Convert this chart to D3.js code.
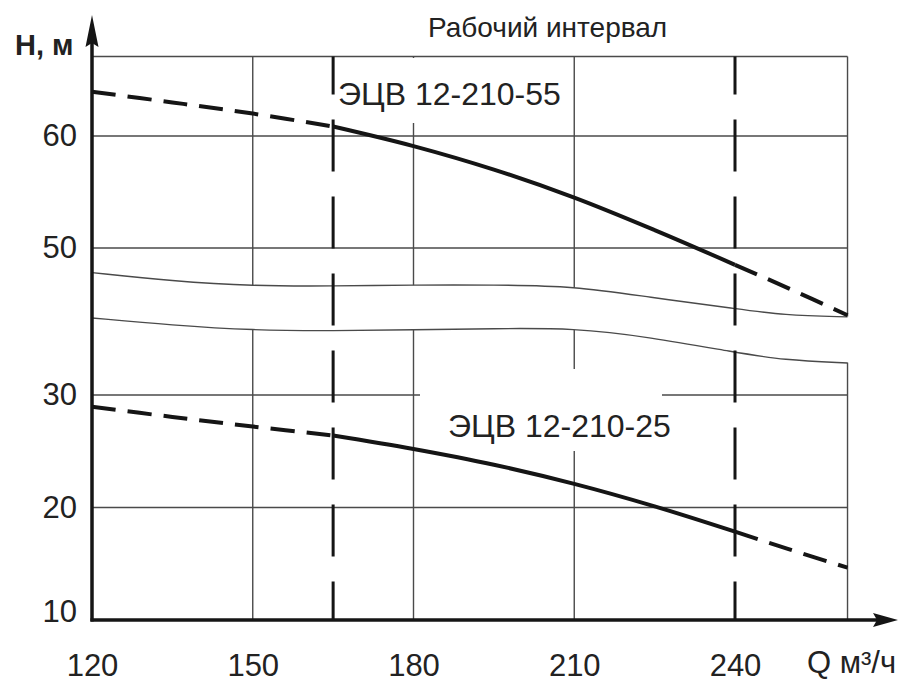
<!DOCTYPE html>
<html>
<head>
<meta charset="utf-8">
<script src="https://cdn.jsdelivr.net/npm/d3@7"></script>
<style>
  body { margin: 0; background: #fff; }
  svg { display: block; font-family: "Liberation Sans", Arial, sans-serif; }
</style>
</head>
<body>
<div id="chart"></div>
<script>
// ---- data ----
var flowQ   = [120, 135, 150, 165, 180, 195, 210, 225, 240, 250, 261];
var head55  = [63.95, 63.0, 62.0, 60.85, 59.1, 57.0, 54.5, 51.6, 48.5, 46.4, 44.0];
var head25  = [28.95, 28.05, 27.2, 26.4, 25.2, 23.8, 22.1, 20.1, 17.85, 16.3, 14.65];
var workRange = [165, 240];
var seriesNames = ["ЭЦВ 12-210-55", "ЭЦВ 12-210-25"];

var xTicks = [120, 150, 180, 210, 240];
var xGrid = [150, 180, 210, 261];
var yTicksLow = [10, 20, 30];
var yTicksHigh = [50, 60];
var yGridLow = [20, 30];
var yGridHigh = [50, 60, 67.1];

// axis break (two wavy lines)
var breakQ     = [120, 135, 150, 165, 180, 195, 210, 224, 240, 249, 261];
var breakUpper = [47.8, 47.05, 46.6, 46.6, 46.7, 46.7, 46.6, 45.6, 44.6, 44.0, 43.85];
var breakLower = [36.85, 36.2, 35.75, 35.7, 35.8, 35.9, 35.95, 35.15, 33.8, 33.1, 32.85];

var width = 904, height = 684;

var svg = d3.select("#chart")
    .append("svg")
    .attr("width", width)
    .attr("height", height);

// scales: lower part (10..30) and upper part (50..67) of the broken H axis
var x = d3.scaleLinear().domain([120, 240]).range([92, 735]);
var yLow = d3.scaleLinear().domain([10, 30]).range([620, 395]);
var yHigh = d3.scaleLinear().domain([50, 60]).range([248, 136]);

var gridColor = "#4a4a4a";
var ink = "#151515";

var defs = svg.append("defs");

var upperPts = breakQ.map(function (q, i) { return [q, breakUpper[i]]; });
var lowerPts = breakQ.map(function (q, i) { return [q, breakLower[i]]; });

// clip areas: above the upper wave / below the lower wave
var upperArea = d3.area()
    .x(function (d) { return x(d[0]); })
    .y0(0)
    .y1(function (d) { return yHigh(d[1]); })
    .curve(d3.curveBasis);
var lowerArea = d3.area()
    .x(function (d) { return x(d[0]); })
    .y0(height)
    .y1(function (d) { return yLow(d[1]); })
    .curve(d3.curveBasis);

function padEnds(pts) {
    var a = pts.slice();
    a.unshift([110, pts[0][1]]);
    a.push([270, pts[pts.length - 1][1]]);
    return a;
}

defs.append("clipPath").attr("id", "clipUpper")
    .append("path").attr("d", upperArea(padEnds(upperPts)));
defs.append("clipPath").attr("id", "clipLower")
    .append("path").attr("d", lowerArea(padEnds(lowerPts)));

// ---- grid ----
var gUp = svg.append("g").attr("clip-path", "url(#clipUpper)");
var gLo = svg.append("g").attr("clip-path", "url(#clipLower)");

gUp.selectAll("line.h").data(yGridHigh).enter().append("line")
    .attr("x1", x(120)).attr("x2", x(261))
    .attr("y1", function (d) { return yHigh(d); })
    .attr("y2", function (d) { return yHigh(d); })
    .attr("stroke", gridColor).attr("stroke-width", 1.4);
gUp.selectAll("line.v").data(xGrid).enter().append("line")
    .attr("x1", function (d) { return x(d); })
    .attr("x2", function (d) { return x(d); })
    .attr("y1", yHigh(67.1)).attr("y2", 400)
    .attr("stroke", gridColor).attr("stroke-width", 1.4);

gLo.selectAll("line.h").data(yGridLow).enter().append("line")
    .attr("x1", x(120)).attr("x2", x(261))
    .attr("y1", function (d) { return yLow(d); })
    .attr("y2", function (d) { return yLow(d); })
    .attr("stroke", gridColor).attr("stroke-width", 1.4);
gLo.selectAll("line.v").data(xGrid).enter().append("line")
    .attr("x1", function (d) { return x(d); })
    .attr("x2", function (d) { return x(d); })
    .attr("y1", 250).attr("y2", yLow(10))
    .attr("stroke", gridColor).attr("stroke-width", 1.4);

// wavy break lines
var upperLine = d3.line()
    .x(function (d) { return x(d[0]); })
    .y(function (d) { return yHigh(d[1]); })
    .curve(d3.curveBasis);
var lowerLine = d3.line()
    .x(function (d) { return x(d[0]); })
    .y(function (d) { return yLow(d[1]); })
    .curve(d3.curveBasis);

svg.append("path").attr("d", upperLine(upperPts))
    .attr("fill", "none").attr("stroke", gridColor).attr("stroke-width", 1.4);
svg.append("path").attr("d", lowerLine(lowerPts))
    .attr("fill", "none").attr("stroke", gridColor).attr("stroke-width", 1.4);

// white boxes behind the curve names
svg.append("rect").attr("x", 336).attr("y", 58).attr("width", 233).attr("height", 65).attr("fill", "#fff");
svg.append("rect").attr("x", 420).attr("y", 369).attr("width", 242).attr("height", 82).attr("fill", "#fff");

// working interval dashed verticals
svg.selectAll(".work").data(workRange).enter().append("line")
    .attr("class", "work")
    .attr("x1", function (d) { return x(d); })
    .attr("x2", function (d) { return x(d); })
    .attr("y1", yHigh(67.1)).attr("y2", yLow(10))
    .attr("stroke", ink).attr("stroke-width", 3)
    .attr("stroke-dasharray", "52,25")
    .attr("stroke-dashoffset", 14);

// ---- pump curves: dashed outside the working interval, solid inside ----
var curves = [
    { name: seriesNames[0], scale: yHigh, values: head55 },
    { name: seriesNames[1], scale: yLow, values: head25 }
];
var segments = [
    { from: 120, to: workRange[0], dash: "24,12" },
    { from: workRange[0], to: workRange[1], dash: null },
    { from: workRange[1], to: 261, dash: "24,12" }
];

curves.forEach(function (c) {
    var pts = flowQ.map(function (q, i) { return [q, c.values[i]]; });
    var line = d3.line()
        .x(function (d) { return x(d[0]); })
        .y(function (d) { return c.scale(d[1]); })
        .curve(d3.curveCatmullRom.alpha(0.5));
    segments.forEach(function (s) {
        var part = pts.filter(function (p) { return p[0] >= s.from && p[0] <= s.to; });
        svg.append("path").attr("d", line(part))
            .attr("fill", "none").attr("stroke", ink).attr("stroke-width", 4)
            .attr("stroke-dasharray", s.dash);
    });
});

// curve names
svg.append("text").attr("x", 338).attr("y", 105)
    .style("font-size", "32px").attr("fill", "#222")
    .text(seriesNames[0]);
svg.append("text").attr("x", 448).attr("y", 437)
    .style("font-size", "32px").attr("fill", "#222")
    .text(seriesNames[1]);

// ---- axes ----
var xAxis = svg.append("g")
    .attr("transform", "translate(0," + yLow(10) + ")")
    .call(d3.axisBottom(x).tickValues(xTicks).tickSize(0).tickPadding(34));
var yAxisLow = svg.append("g")
    .attr("transform", "translate(" + x(120) + ",0)")
    .call(d3.axisLeft(yLow).tickValues(yTicksLow).tickSize(0).tickPadding(15));
var yAxisHigh = svg.append("g")
    .attr("transform", "translate(" + x(120) + ",0)")
    .call(d3.axisLeft(yHigh).tickValues(yTicksHigh).tickSize(0).tickPadding(15));

[xAxis, yAxisLow, yAxisHigh].forEach(function (g) {
    g.select(".domain").remove();
    g.selectAll("text")
        .style("font-size", "31px")
        .style("font-family", "'Liberation Sans', Arial, sans-serif")
        .attr("fill", "#222");
});
yAxisLow.selectAll("text").filter(function (d) { return d === 10; }).attr("dy", "0.05em");

// axis lines with arrows
svg.append("line")
    .attr("x1", x(120)).attr("x2", x(120))
    .attr("y1", yLow(10) + 1.5).attr("y2", 35)
    .attr("stroke", ink).attr("stroke-width", 3.5);
svg.append("line")
    .attr("x1", x(120) - 1.5).attr("x2", 880)
    .attr("y1", yLow(10)).attr("y2", yLow(10))
    .attr("stroke", ink).attr("stroke-width", 3.5);

var ax = x(120), ay = yLow(10);
svg.append("path")
    .attr("d", "M" + ax + ",15 L" + (ax + 6.5) + ",47 L" + ax + ",43 L" + (ax - 6.5) + ",47 Z")
    .attr("fill", ink);
svg.append("path")
    .attr("d", "M898," + ay + " L873," + (ay - 7) + " L877," + ay + " L873," + (ay + 7) + " Z")
    .attr("fill", ink);

// axis names and title
svg.append("text").attr("x", 15).attr("y", 55)
    .style("font-size", "29px").style("font-weight", "bold").attr("fill", "#222")
    .text("H, м");
svg.append("text").attr("x", 807).attr("y", 673)
    .style("font-size", "31px").attr("fill", "#222")
    .text("Q м³/ч");
svg.append("text").attr("x", 428).attr("y", 37)
    .style("font-size", "28px").attr("fill", "#222")
    .text("Рабочий интервал");
</script>
</body>
</html>
